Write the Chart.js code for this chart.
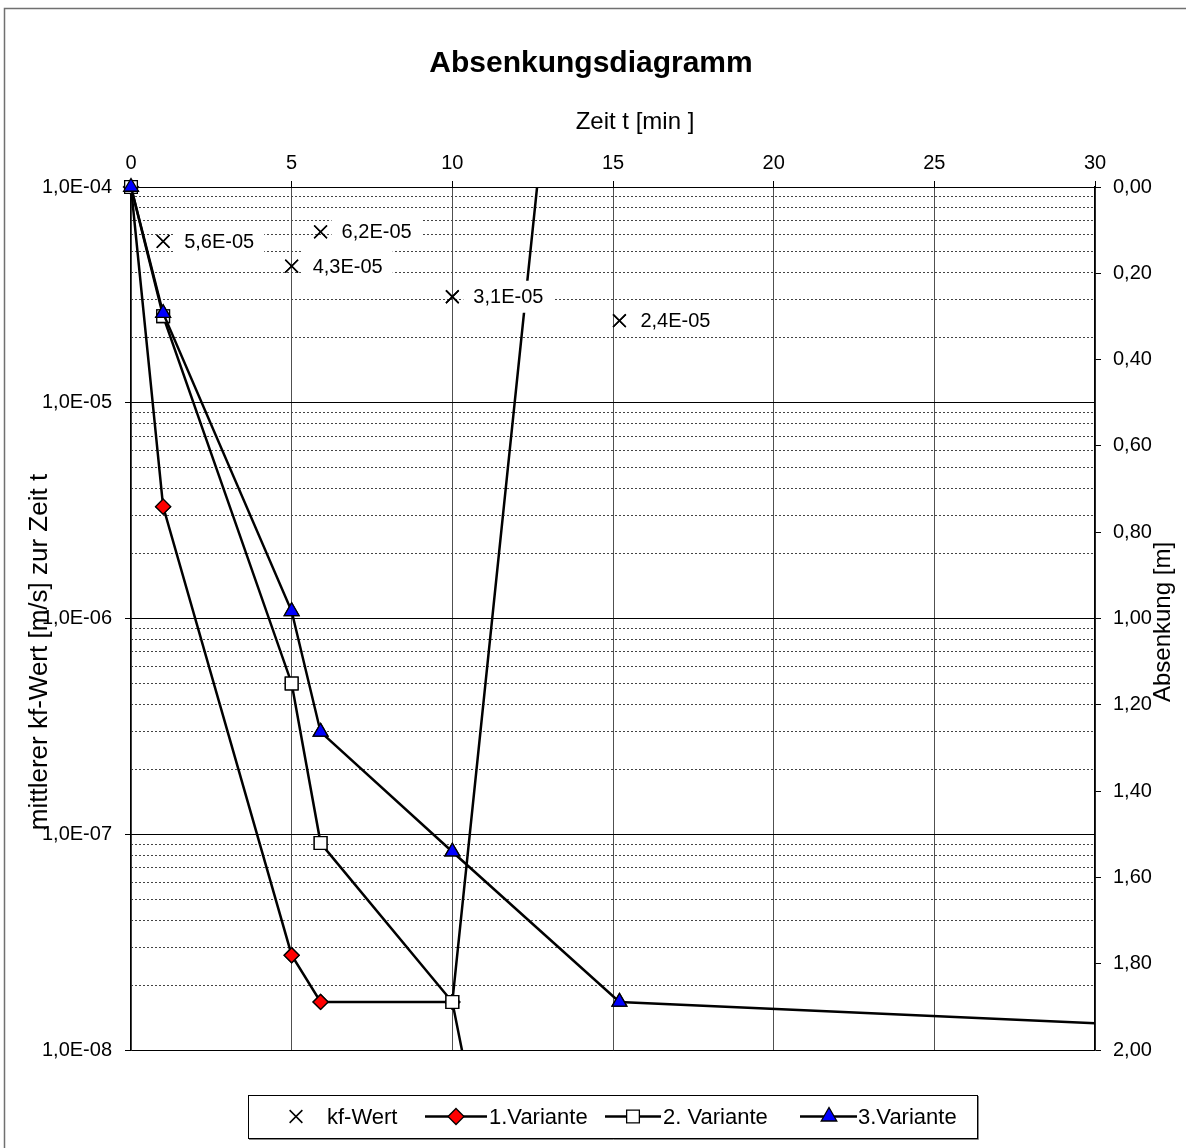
<!DOCTYPE html>
<html><head><meta charset="utf-8">
<script src="https://cdn.jsdelivr.net/npm/chart.js@4/dist/chart.umd.min.js"></script>
<style>html,body{margin:0;padding:0;background:#fff;}canvas{display:block;}</style>
</head><body>
<canvas id="c" width="1186" height="1148" style="width:1186px;height:1148px"></canvas>
<script>
const chartTitle = 'Absenkungsdiagramm';
const xAxisTitle = 'Zeit t [min ]';
const yAxisTitle = 'mittlerer kf-Wert [m/s] zur Zeit t';
const y2AxisTitle = 'Absenkung [m]';

const timeTicks = [0, 5, 10, 15, 20, 25, 30];
const kfTicks = [1e-8, 1e-7, 1e-6, 1e-5, 1e-4];
const kfTickLabels = ['1,0E-08', '1,0E-07', '1,0E-06', '1,0E-05', '1,0E-04'];
const minorMultipliers = [2, 3, 4, 5, 6, 7, 8, 9];
const absenkungTicks = [0, 0.2, 0.4, 0.6, 0.8, 1.0, 1.2, 1.4, 1.6, 1.8, 2.0];
const absenkungTickLabels = ['0,00', '0,20', '0,40', '0,60', '0,80', '1,00', '1,20', '1,40', '1,60', '1,80', '2,00'];

const seriesNames = ['kf-Wert', '1.Variante', '2. Variante', '3.Variante'];

const kfTime = [1, 5, 5.9, 10, 15.2];
const kfValues = [5.6e-5, 4.3e-5, 6.2e-5, 3.1e-5, 2.4e-5];
const kfLabels = ['5,6E-05', '4,3E-05', '6,2E-05', '3,1E-05', '2,4E-05'];

const v1Time = [0, 1, 5, 5.9, 10, 11];
const v1Values = [1e-4, 3.3e-6, 2.75e-8, 1.67e-8, 1.67e-8, 3.0e-9];
const v2Time = [0, 1, 5, 5.9, 10, 13];
const v2Values = [1e-4, 2.52e-5, 5.0e-7, 9.1e-8, 1.67e-8, 3.3e-4];
const v3Time = [0, 1, 5, 5.9, 10, 15.2, 32];
const v3Values = [1e-4, 2.6e-5, 1.08e-6, 2.98e-7, 8.3e-8, 1.67e-8, 1.29e-8];

const F = "'Liberation Sans', Arial, Helvetica, sans-serif";
Chart.defaults.font.family = F;
Chart.defaults.color = '#000';

const pts = (xs, ys) => xs.map((x, i) => ({ x: x, y: ys[i] }));

function drawMarker(ctx, style, x, y, r, fill, bw) {
  ctx.save();
  ctx.lineWidth = bw;
  ctx.strokeStyle = '#000';
  ctx.fillStyle = fill;
  ctx.beginPath();
  if (style === 'rectRot') {
    ctx.moveTo(x, y - r); ctx.lineTo(x + r, y); ctx.lineTo(x, y + r); ctx.lineTo(x - r, y); ctx.closePath();
    ctx.fill(); ctx.stroke();
  } else if (style === 'rect') {
    const s = r * Math.SQRT1_2;
    ctx.rect(x - s, y - s, 2 * s, 2 * s); ctx.fill(); ctx.stroke();
  } else if (style === 'triangle') {
    for (let k = 0; k < 3; k++) {
      const a = -Math.PI / 2 + k * 2 * Math.PI / 3;
      const px = x + Math.cos(a) * r, py = y + Math.sin(a) * r;
      if (k === 0) ctx.moveTo(px, py); else ctx.lineTo(px, py);
    }
    ctx.closePath(); ctx.fill(); ctx.stroke();
  } else if (style === 'crossRot') {
    const s = r * Math.SQRT1_2;
    ctx.moveTo(x - s, y - s); ctx.lineTo(x + s, y + s);
    ctx.moveTo(x + s, y - s); ctx.lineTo(x - s, y + s);
    ctx.stroke();
  }
  ctx.restore();
}

const overlay = {
  id: 'overlay',
  afterDatasetDraw(chart, args) {
    const ctx = chart.ctx;
    ctx.save();
    args.meta.data.forEach(p => p.draw(ctx, chart.chartArea));
    ctx.restore();
  },
  afterDraw(chart) {
    const ctx = chart.ctx;
    ctx.save();
    // outer frame
    ctx.strokeStyle = '#707070';
    ctx.lineWidth = 1.5;
    ctx.strokeRect(4.5, 8.5, 1300, 1300);

    // data labels for kf-Wert
    const meta = chart.getDatasetMeta(0);
    ctx.font = '20px ' + F;
    ctx.textBaseline = 'middle';
    ctx.textAlign = 'left';
    meta.data.forEach((p, i) => {
      const txt = kfLabels[i];
      const w = ctx.measureText(txt).width;
      ctx.fillStyle = '#fff';
      ctx.fillRect(p.x + 11, p.y - 16, w + 20, 32);
      ctx.fillStyle = '#000';
      ctx.fillText(txt, p.x + 21, p.y + 1);
    });

    // titles
    ctx.textAlign = 'center';
    ctx.fillStyle = '#000';
    ctx.font = 'bold 30px ' + F;
    ctx.fillText(chartTitle, 591, 64);
    ctx.font = '24px ' + F;
    ctx.fillText(xAxisTitle, 635, 122);
    ctx.save();
    ctx.translate(1163, 622);
    ctx.rotate(-Math.PI / 2);
    ctx.fillText(y2AxisTitle, 0, 0);
    ctx.restore();
    ctx.save();
    ctx.font = '26px ' + F;
    ctx.translate(40, 652);
    ctx.rotate(-Math.PI / 2);
    ctx.fillText(yAxisTitle, 0, 0);
    ctx.restore();

    // legend
    ctx.fillStyle = '#fff';
    ctx.fillRect(248.5, 1095.5, 729, 43);
    ctx.strokeStyle = '#000';
    ctx.lineWidth = 1;
    ctx.strokeRect(248.5, 1095.5, 729, 43);
    ctx.strokeStyle = '#888';
    ctx.beginPath();
    ctx.moveTo(249, 1139.5); ctx.lineTo(978.5, 1139.5); ctx.lineTo(978.5, 1096);
    ctx.stroke();
    const ly = 1116.5;
    const items = [
      { name: seriesNames[0], style: 'crossRot', fill: '#000', line: null, mx: 296, tx: 327, r: 9 },
      { name: seriesNames[1], style: 'rectRot', fill: '#ff0000', line: [425, 487], mx: 456, tx: 489, r: 8 },
      { name: seriesNames[2], style: 'rect', fill: '#ffffff', line: [605, 661], mx: 633, tx: 663, r: 9 },
      { name: seriesNames[3], style: 'triangle', fill: '#0000ff', line: [800, 857], mx: 829, tx: 858, r: 9 }
    ];
    ctx.font = '22px ' + F;
    ctx.textAlign = 'left';
    ctx.textBaseline = 'middle';
    items.forEach(it => {
      if (it.line) {
        ctx.strokeStyle = '#000';
        ctx.lineWidth = 2.5;
        ctx.beginPath();
        ctx.moveTo(it.line[0], ly); ctx.lineTo(it.line[1], ly);
        ctx.stroke();
      }
      drawMarker(ctx, it.style, it.mx, ly, it.r, it.fill, it.style === 'crossRot' ? 1.5 : 1.3);
      ctx.fillStyle = '#000';
      ctx.fillText(it.name, it.tx, ly + 1);
    });
    ctx.restore();
  }
};

const lineCommon = {
  xAxisID: 'x', yAxisID: 'y',
  borderColor: '#000', borderWidth: 2.5, tension: 0, fill: false,
  pointBorderColor: '#000', pointBorderWidth: 1.3
};

new Chart(document.getElementById('c'), {
  type: 'line',
  data: {
    datasets: [
      { label: seriesNames[0], data: pts(kfTime, kfValues), xAxisID: 'x', yAxisID: 'y', showLine: false,
        pointStyle: 'crossRot', pointRadius: 9, pointBorderColor: '#000', pointBackgroundColor: '#000', pointBorderWidth: 1.5, order: 3 },
      Object.assign({ label: seriesNames[1], data: pts(v1Time, v1Values), pointStyle: 'rectRot', pointRadius: 7.5,
        pointBackgroundColor: '#ff0000', order: 2 }, lineCommon),
      Object.assign({ label: seriesNames[2], data: pts(v2Time, v2Values), pointStyle: 'rect', pointRadius: 9,
        pointBackgroundColor: '#ffffff', order: 1 }, lineCommon),
      Object.assign({ label: seriesNames[3], data: pts(v3Time, v3Values), pointStyle: 'triangle', pointRadius: 8.5,
        pointBackgroundColor: '#0000ff', order: 0 }, lineCommon)
    ]
  },
  options: {
    responsive: false,
    animation: false,
    events: [],
    layout: { padding: { left: 0, right: 0, top: 0, bottom: 98 } },
    plugins: { legend: { display: false }, title: { display: false }, tooltip: { enabled: false } },
    scales: {
      x: {
        type: 'linear', position: 'top', min: 0, max: 30,
        afterBuildTicks: s => { s.ticks = timeTicks.map(v => ({ value: v })); },
        ticks: { font: { size: 20 }, padding: 6, maxRotation: 0, autoSkip: false,
          callback: (v, i) => String(timeTicks[i]) },
        grid: { color: '#505050', lineWidth: 1, tickLength: 6, tickColor: '#000' },
        border: { color: '#000', width: 1 },
        afterFit: s => { s.height = 187; }
      },
      y: {
        type: 'logarithmic', position: 'left', min: 1e-8, max: 1e-4,
        afterBuildTicks: s => { s.ticks = kfTicks.map(v => ({ value: v })); },
        ticks: { font: { size: 20 }, padding: 13, autoSkip: false,
          callback: (v, i) => kfTickLabels[i] },
        grid: { color: '#000', lineWidth: 1, tickLength: 6 },
        border: { color: '#000', width: 1.2 },
        afterFit: s => { s.width = 131; }
      },
      yMinor: {
        type: 'logarithmic', position: 'left', min: 1e-8, max: 1e-4,
        afterBuildTicks: s => {
          const vals = [];
          kfTicks.slice(0, -1).forEach(d => minorMultipliers.forEach(m => vals.push(m * d)));
          s.ticks = vals.map(v => ({ value: v }));
        },
        ticks: { display: false },
        grid: { color: '#444', lineWidth: 1, drawTicks: false },
        border: { display: false, dash: [2, 2] },
        afterFit: s => { s.width = 0; }
      },
      y2: {
        type: 'linear', position: 'right', min: 0, max: 2, reverse: true,
        afterBuildTicks: s => { s.ticks = absenkungTicks.map(v => ({ value: v })); },
        ticks: { font: { size: 20 }, padding: 12, autoSkip: false,
          callback: (v, i) => absenkungTickLabels[i] },
        grid: { drawOnChartArea: false, tickLength: 6, color: '#000' },
        border: { color: '#000', width: 1.5 },
        afterFit: s => { s.width = 91; }
      }
    }
  },
  plugins: [overlay]
});
</script>
</body></html>
